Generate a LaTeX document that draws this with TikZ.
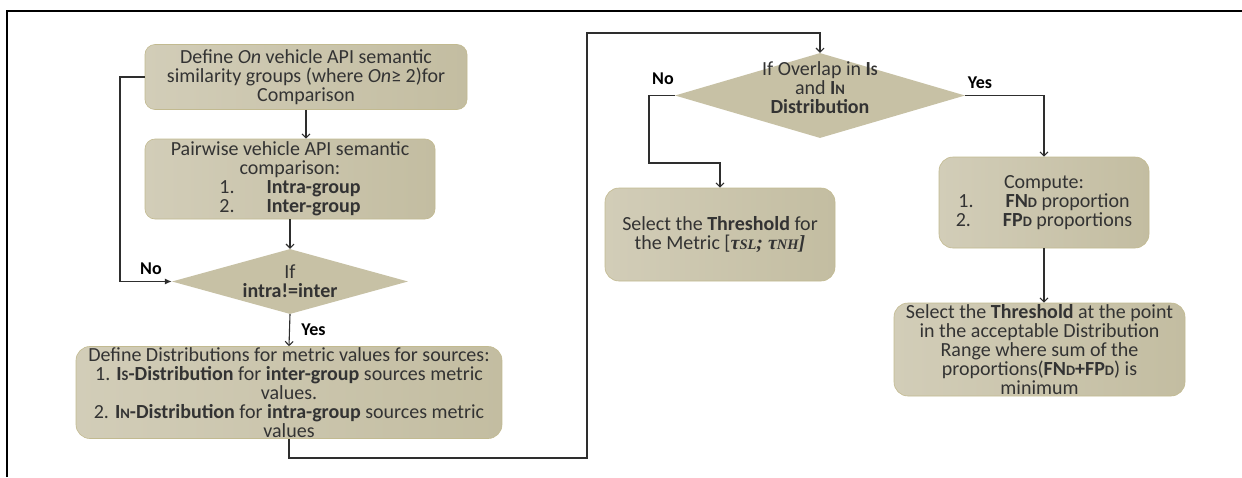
\documentclass[tikz,border=0pt]{standalone}
\usepackage{fontspec}
\setmainfont{Carlito}
\newfontfamily\taufont{Liberation Serif}
\usetikzlibrary{shapes.geometric,arrows.meta}
\definecolor{boxlight}{HTML}{D2CDB8}
\definecolor{boxdark}{HTML}{C3BDA1}
\definecolor{boxline}{HTML}{C2BA90}
\definecolor{dmdfill}{HTML}{C7C1A5}
\definecolor{wirecol}{HTML}{2E2E2E}
\newcommand{\smcap}[1]{{\fontsize{14.5}{14.5}\selectfont #1}}

\begin{document}
\begin{tikzpicture}[x=1pt,y=-1pt,font=\fontsize{20}{19}\selectfont,text=black!80,
    stepbox/.style={draw=boxline,line width=0.6pt,rounded corners=10pt,
      left color=boxlight,right color=boxdark,align=center,inner sep=1pt},
    choice/.style={diamond,fill=dmdfill,inner sep=0pt},
    link/.style={draw=wirecol,line width=1.1pt,-{Straight Barb[length=4pt,width=8pt]}},
    yesno/.style={font=\fontsize{18}{18}\selectfont\bfseries,text=black}]
  \useasboundingbox (0,0) rectangle (1242,477);
  \draw[line width=2.4pt] (7,477) -- (7,11) -- (1242,11);

  \node[stepbox,minimum width=322pt,minimum height=65pt] (def) at (306,77)
    {Define \textit{On} vehicle API semantic\\similarity groups (where \textit{On}≥ 2)for\\Comparison};
  \node[stepbox,minimum width=290pt,minimum height=80pt] (pair) at (290,179)
    {Pairwise vehicle API semantic\\comparison:\\1.\hspace{1.6em}\textbf{Intra-group}\\2.\hspace{1.6em}\textbf{Inter-group}};
  \node[choice,minimum width=236pt,minimum height=65pt,
    label={[align=center]center:{If\\\textbf{intra!=inter}}}] (ifa) at (290,281.5) {};
  \node[stepbox,minimum width=426pt,minimum height=91pt,rounded corners=14pt] (dist) at (289,392.5)
    {Define Distributions for metric values for sources:\\
     1. \textbf{I\smcap{S}-Distribution} for \textbf{inter-group} sources metric\\values.\\
     2. \textbf{I\smcap{N}-Distribution} for \textbf{intra-group} sources metric\\values};

  \node[choice,minimum width=290pt,minimum height=85pt,
    label={[align=center,yshift=8pt]center:{If Overlap in \textbf{I\smcap{S}}\\and \textbf{I\smcap{N}}\\\textbf{Distribution}}}] (ifb) at (820,95.5) {};
  \node[stepbox,minimum width=230pt,minimum height=93pt,rounded corners=14pt] (thrm) at (720,234.5)
    {Select the \textbf{Threshold} for\\the Metric [{\taufont\bfseries\itshape τ\smcap{SL}; τ\smcap{NH}]}};
  \node[stepbox,minimum width=210pt,minimum height=91pt,rounded corners=14pt] (comp) at (1044,202.5)
    {Compute:\\1.\hspace{1.6em}\textbf{FN\smcap{D}} proportion\\2.\hspace{1.6em}\textbf{FP\smcap{D}} proportions};
  \node[stepbox,minimum width=291pt,minimum height=93pt,rounded corners=14pt] (thra) at (1039.5,349.5)
    {Select the \textbf{Threshold} at the point\\in the acceptable Distribution\\Range where sum of the\\
     proportions(\textbf{FN\smcap{D}+FP\smcap{D}}) is\\minimum};

  \draw[link] (def.south) -- (def.south |- pair.north);
  \draw[link] (pair.south) -- (ifa.north);
  \coordinate (loop) at (120,77);
  \draw[link,-{Latex[length=7pt,width=6pt]}] (def.west) -- (loop) |- (ifa.west);
  \node[yesno] (noa) at (151,269) {No};
  \draw[link] (ifa.south) -- (dist.north) node[midway,right=8pt,yesno] (yesa) {Yes};

  \coordinate (lowr) at (587,458);
  \coordinate (topr) at (587,33);
  \draw[link] (dist.south) |- (lowr) -- (topr) -| (ifb.north);
  \coordinate (nobend) at (649,163);
  \draw[link] (ifb.west) -| (nobend) -| (thrm.north);
  \node[yesno] (nob) at (663,79) {No};
  \draw[link] (ifb.east) -| (comp.north);
  \node[yesno] (yesb) at (980,83) {Yes};
  \draw[link] (comp.south) -- (comp.south |- thra.north);
\end{tikzpicture}
\end{document}
